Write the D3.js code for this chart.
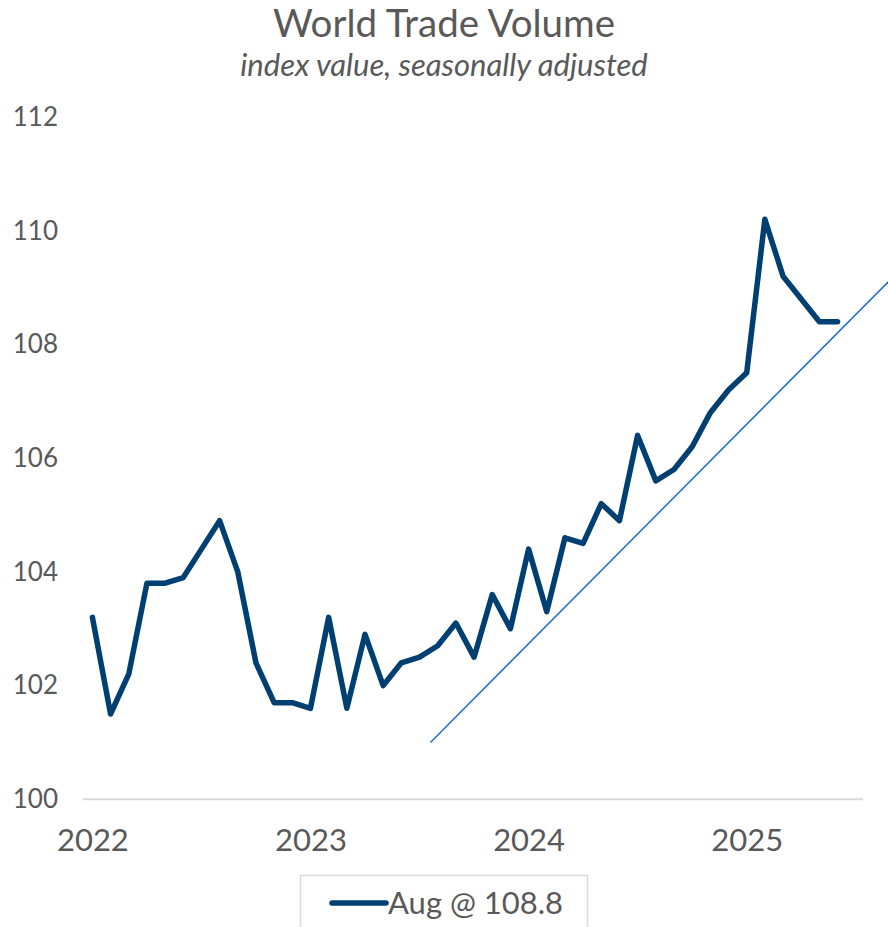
<!DOCTYPE html>
<html>
<head>
<meta charset="utf-8">
<script src="https://cdn.jsdelivr.net/npm/d3@7"></script>
<style>
  html, body { margin: 0; padding: 0; background: #fff; }
  svg { display: block; font-family: Lato, "Open Sans", sans-serif; }
</style>
</head>
<body>
<div id="chart"></div>
<script>
// Monthly world trade volume index, Jan 2022 onward
const monthIndex = d3.range(42);
const tradeVolume = [
  103.2, 101.5, 102.2, 103.8, 103.8, 103.9, 104.4, 104.9, 104.0, 102.4, 101.7, 101.7,
  101.6, 103.2, 101.6, 102.9, 102.0, 102.4, 102.5, 102.7, 103.1, 102.5, 103.6, 103.0,
  104.4, 103.3, 104.6, 104.5, 105.2, 104.9, 106.4, 105.6, 105.8, 106.2, 106.8, 107.2,
  107.5, 110.2, 109.2, 108.8, 108.4, 108.4
];
// Straight trend line: [month index, index value]
const trendPoints = [[18.6, 101.0], [45.0, 109.49]];
const yearTicks = [0, 12, 24, 36];
const yearLabels = ["2022", "2023", "2024", "2025"];
const yTicks = [100, 102, 104, 106, 108, 110, 112];
const legendLabel = "Aug @ 108.8";

const W = 888, H = 927;
const textColor = "#595959";
const lineColor = "#003f72";
const trendColor = "#1f6fcc";

const svg = d3.select("#chart").append("svg")
  .attr("width", W).attr("height", H);

const x = d3.scaleLinear().domain([-0.5, 42.4]).range([83.3, 863]);
const y = d3.scaleLinear().domain([100, 112]).range([799.3, 117]);

// Titles
svg.append("text")
  .attr("x", 444).attr("y", 37)
  .attr("text-anchor", "middle")
  .attr("fill", textColor)
  .style("font-size", "38.5px")
  .style("font-weight", 400)
  .text("World Trade Volume");
svg.append("text")
  .attr("x", 444).attr("y", 76)
  .attr("text-anchor", "middle")
  .attr("fill", textColor)
  .style("font-size", "31px")
  .style("font-style", "italic")
  .style("font-weight", 400)
  .text("index value, seasonally adjusted");

// Y axis labels
const yAxis = svg.append("g")
  .attr("transform", "translate(58,0)")
  .call(d3.axisLeft(y).tickValues(yTicks).tickSize(0).tickPadding(0).tickFormat(d3.format("d")));
yAxis.select(".domain").remove();
yAxis.selectAll("text")
  .attr("fill", textColor)
  .style("font-size", "26px")
  .style("font-family", "Lato, sans-serif");

// Baseline
svg.append("line")
  .attr("x1", x.range()[0]).attr("x2", x.range()[1])
  .attr("y1", y(100)).attr("y2", y(100))
  .attr("stroke", "#d9d9d9").attr("stroke-width", 2);

// X axis labels
const xAxis = svg.append("g")
  .attr("transform", `translate(0,${y(100)})`)
  .call(d3.axisBottom(x).tickValues(yearTicks).tickSize(0).tickPadding(30)
    .tickFormat((d, i) => yearLabels[i]));
xAxis.select(".domain").remove();
xAxis.selectAll("text")
  .attr("fill", textColor)
  .style("font-size", "31px")
  .style("font-family", "Lato, sans-serif");

// Trend line
svg.append("path")
  .datum(trendPoints)
  .attr("fill", "none")
  .attr("stroke", trendColor)
  .attr("stroke-width", 1.5)
  .attr("d", d3.line().x(d => x(d[0])).y(d => y(d[1])));

// Main series
const line = d3.line()
  .x((d, i) => x(monthIndex[i]))
  .y(d => y(d));
svg.append("path")
  .datum(tradeVolume)
  .attr("fill", "none")
  .attr("stroke", lineColor)
  .attr("stroke-width", 5.5)
  .attr("stroke-linejoin", "round")
  .attr("stroke-linecap", "round")
  .attr("d", line);

// Legend
const lg = svg.append("g");
lg.append("rect")
  .attr("x", 300.5).attr("y", 875.5)
  .attr("width", 287).attr("height", 80)
  .attr("fill", "#fff").attr("stroke", "#d9d9d9").attr("stroke-width", 1.5);
lg.append("line")
  .attr("x1", 332).attr("x2", 386)
  .attr("y1", 903).attr("y2", 903)
  .attr("stroke", lineColor).attr("stroke-width", 5.5)
  .attr("stroke-linecap", "round");
lg.append("text")
  .attr("x", 388).attr("y", 914)
  .attr("fill", textColor)
  .style("font-size", "31px")
  .text(legendLabel);
</script>
</body>
</html>
